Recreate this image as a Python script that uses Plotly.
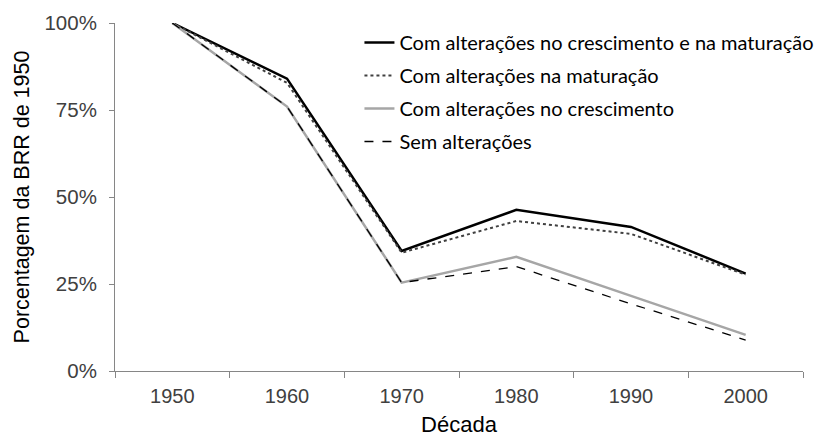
import plotly.graph_objects as go

decadas = ["1950", "1960", "1970", "1980", "1990", "2000"]
serie_cresc_mat = [1.00, 0.84, 0.345, 0.463, 0.414, 0.28]
serie_mat = [1.00, 0.828, 0.34, 0.431, 0.394, 0.277]
serie_cresc = [1.00, 0.76, 0.254, 0.328, 0.216, 0.104]
serie_sem = [1.00, 0.76, 0.254, 0.30, 0.193, 0.089]
nomes = [
    "Com alterações no crescimento e na maturação",
    "Com alterações na maturação",
    "Com alterações no crescimento",
    "Sem alterações",
]
y_ticks = [0, 0.25, 0.5, 0.75, 1.0]
y_tick_labels = ["0%", "25%", "50%", "75%", "100%"]

estilos = [
    dict(color="#000000", width=2.5, dash="solid"),
    dict(color="#404040", width=2, dash="dot"),
    dict(color="#a6a6a6", width=2.5, dash="solid"),
    dict(color="#000000", width=1.3, dash="dash"),
]

fig = go.Figure()
for i, (nome, valores) in enumerate(zip(nomes, [serie_cresc_mat, serie_mat, serie_cresc, serie_sem])):
    fig.add_trace(go.Scatter(
        x=decadas, y=valores, mode="lines", name=nome,
        line=estilos[i], legendgroup=str(i),
    ))

fig.update_layout(
    width=822, height=439,
    paper_bgcolor="white", plot_bgcolor="white",
    margin=dict(l=107, r=27, t=15, b=76, autoexpand=False),
    font=dict(family="Liberation Sans, Arial", color="#404040"),
    showlegend=True,
    legend=dict(
        x=0.3553, y=1.0, xanchor="left", yanchor="top",
        font=dict(family="Lato, Noto Sans", size=20, color="#000000"),
        tracegroupgap=4, bgcolor="rgba(0,0,0,0)",
    ),
)
fig.update_xaxes(
    type="category", range=[-0.5, 5.5],
    showline=True, linecolor="#868686", linewidth=1,
    ticks="outside", tickson="boundaries", ticklen=6, tickcolor="#868686",
    tickfont=dict(size=20, color="#404040"),
    ticklabelstandoff=7,
    showgrid=False, zeroline=False,
    title=dict(text="Década", font=dict(size=22, color="#000000"), standoff=10),
)
fig.update_yaxes(
    range=[0, 1.0], tickvals=y_ticks, ticktext=y_tick_labels,
    showline=True, linecolor="#868686", linewidth=1,
    ticks="outside", ticklen=5, tickcolor="#868686",
    tickfont=dict(size=20.5, color="#404040"),
    ticklabelstandoff=8,
    showgrid=False, zeroline=False,
    title=dict(text="Porcentagem da BRR de 1950", font=dict(size=21.5, color="#000000"), standoff=8),
)
fig.write_html("out.html")
